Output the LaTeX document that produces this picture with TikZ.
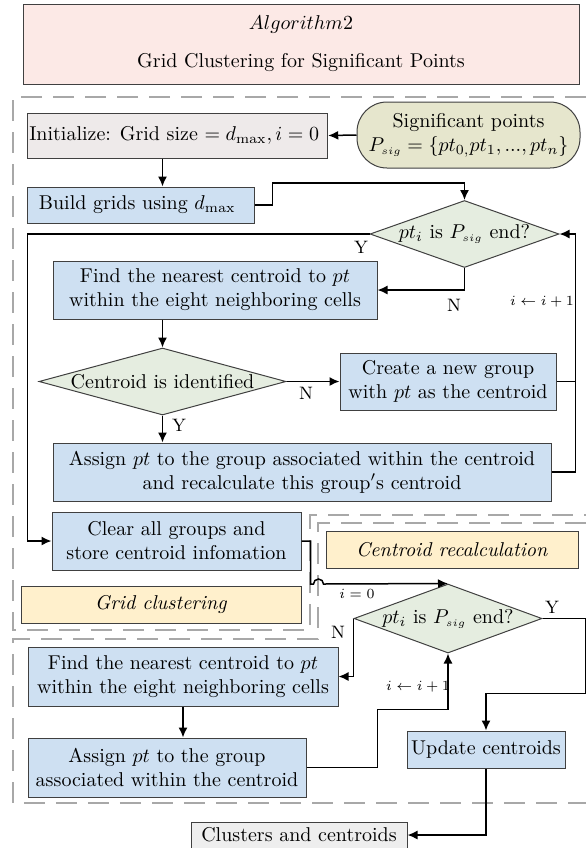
\documentclass[tikz,border=0pt]{standalone}
\usepackage{tikz}
\usetikzlibrary{shapes.geometric,arrows.meta,calc}

\definecolor{titlefill}{RGB}{252,233,230}
\definecolor{initfill}{RGB}{238,234,234}
\definecolor{sigfill}{RGB}{230,230,205}
\definecolor{bluefill}{RGB}{206,224,242}
\definecolor{decfill}{RGB}{229,237,224}
\definecolor{tagfill}{RGB}{255,240,204}
\definecolor{endfill}{RGB}{238,238,238}
\definecolor{dashgray}{RGB}{168,168,168}

\begin{document}
\begin{tikzpicture}[>={Latex[length=5pt,width=4.5pt]},x=0.5pt,y=-0.5pt,
  box/.style={draw=black!75,line width=0.5pt,align=center,inner sep=1pt,fill=bluefill},
  dec/.style={diamond,draw=black!75,line width=0.5pt,fill=decfill,inner sep=0pt},
  tag/.style={draw=black!75,line width=0.5pt,fill=tagfill,inner sep=1pt},
  region/.style={dashgray,line width=1.3pt,dash pattern=on 10.5pt off 5.5pt},
  flow/.style={line width=0.75pt},
  yn/.style={font=\small,inner sep=0pt},
  inc/.style={font=\scriptsize,inner sep=0pt}]
\useasboundingbox (0,0) rectangle (586,848);
% title
\node[box,fill=titlefill,minimum width=278pt,minimum height=40pt] (title) at (301,44) {
$Algorithm2$\\[7pt]Grid Clustering for Significant Points
};
% dashed regions
\draw[region] (586,97) -- (13,97) -- (13,630) -- (310,630) -- (310,515) -- (586,515);
\draw[region] (586,523) -- (318,523) -- (318,639) -- (13,639) -- (13,803) -- (586,803);
% grid clustering
\node[box,fill=initfill,minimum width=149.5pt,minimum height=22.5pt] (init) at (177.5,135.5) {
Initialize: Grid size $=d_{\max},i=0$
};
\node[box,fill=sigfill,rounded corners=15pt,minimum width=111.5pt,minimum height=33pt] (sig) at (468.5,135) {
Significant points\\$P_{\scriptscriptstyle sig}=\{pt_{0,}pt_1,...,pt_n\}$
};
\node[box,minimum width=113.5pt,minimum height=18pt] (build) at (140.5,205) {
Build grids using $d_{\max}$
};
\node[dec,minimum width=94.5pt,minimum height=33.5pt] (end1) at (464.5,234) {
\makebox[0pt]{$pt_i$ is $P_{\scriptscriptstyle sig}$ end?}
};
\node[box,minimum width=162pt,minimum height=29pt] (near1) at (215,290) {
Find the nearest centroid to $pt$\\within the eight neighboring cells
};
\node[dec,minimum width=123.5pt,minimum height=33.5pt] (ident) at (162.5,381.5) {
\makebox[0pt]{Centroid is identified}
};
\node[box,minimum width=108pt,minimum height=28.5pt] (create) at (448,381.5) {
Create a new group\\with $pt$ as the centroid
};
\node[box,minimum width=249pt,minimum height=29pt] (assign1) at (302,472) {
Assign $pt$ to the group associated within the centroid\\and recalculate this group$'$s centroid
};
\node[box,minimum width=124.5pt,minimum height=29pt] (clear) at (176.5,541) {
Clear all groups and\\store centroid infomation
};
\node[tag,minimum width=140pt,minimum height=18.5pt] (gridtag) at (161,604.5) {\textit{Grid clustering}};
% centroid recalculation
\node[tag,minimum width=126pt,minimum height=18.5pt] (centtag) at (452,549.5) {\textit{Centroid recalculation}};
\node[dec,minimum width=94pt,minimum height=34.5pt] (end2) at (448,618.5) {
\makebox[0pt]{$pt_i$ is $P_{\scriptscriptstyle sig}$ end?}
};
\node[box,minimum width=155pt,minimum height=29.5pt] (near2) at (183,676.5) {
Find the nearest centroid to $pt$\\within the eight neighboring cells
};
\node[box,minimum width=139pt,minimum height=29.5pt] (assign2) at (167,767.5) {
Assign $pt$ to the group\\associated within the centroid
};
\node[box,minimum width=79pt,minimum height=18.5pt] (update) at (486,749.5) {Update centroids};
\node[box,fill=endfill,minimum width=108pt,minimum height=13pt] (clus) at (299,835) {Clusters and centroids};
% connectors
\draw[flow,->] (sig.west) -- (init.east);
\draw[flow,->] ([xshift=-7.5pt]init.south) -- ([xshift=-7.5pt]init.south |- build.north);
\draw[flow,->] (build.east) -- ++(18,0) -- ++(0,-22) -| (end1.north);
\draw[flow,->] (end1.west) -- ++(-342,0) |- (clear.west);
\node[yn] (y1) at (361,247) {Y};
\draw[flow,->] (end1.south) |- (near1.east);
\node[yn] (n1) at (454,305) {N};
\draw[flow,->] (near1.south -| ident.north) -- (ident.north);
\draw[flow,->] (ident.east) -- (create.west);
\node[yn] (n2) at (306,393) {N};
\draw[flow] (create.east) -- ++(19,0);
\draw[flow,->] (assign1.east) -- ++(24,0) |- (end1.east);
\node[inc] (inc1) at (542,302) {$i\leftarrow i+1$};
\draw[flow,->] (ident.south) -- (ident.south |- assign1.north);
\node[yn] (y2) at (179,425) {Y};
\draw[flow,->] (clear.east) -- ++(9,0) -- ++(0,43) -- ++(3,0)
  arc[start angle=180,end angle=0,radius=2.5pt] -- (end2.north);
\node[inc] (init0) at (357,594) {$i=0$};
\draw[flow,->] (end2.west) |- (near2.east);
\node[yn] (n3) at (338,632) {N};
\draw[flow,->] (near2.south) -- (near2.south |- assign2.north);
\draw[flow,->] (assign2.east) -- ++(71,0) -- ++(0,-58) -| (end2.south);
\node[inc] (inc2) at (418,687) {$i\leftarrow i+1$};
\draw[flow,->] (end2.east) -- ++(43,0) -- ++(0,75) -| (update.north);
\node[yn] (y3) at (552,607) {Y};
\draw[flow,->] (update.south) |- (clus.east);
\end{tikzpicture}
\end{document}
